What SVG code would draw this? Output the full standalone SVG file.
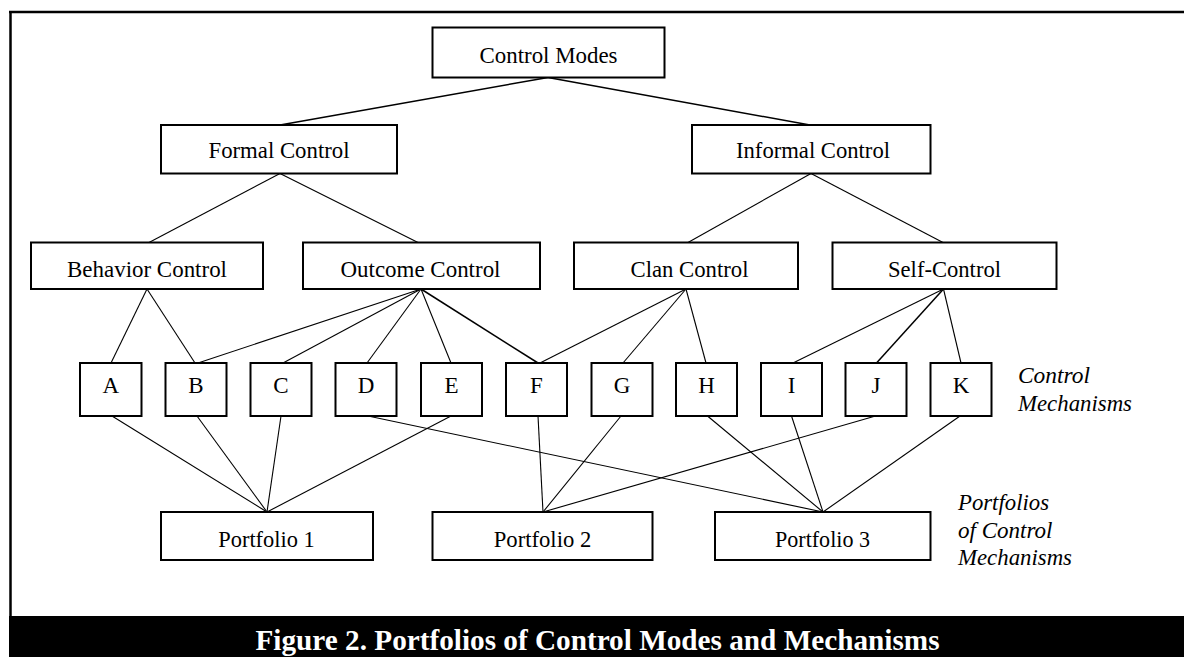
<svg xmlns="http://www.w3.org/2000/svg" width="1184" height="657" viewBox="0 0 1184 657">
  <style>
    .box { fill: #fff; stroke: #000; stroke-width: 2; }
    .lbl { font-family: "Liberation Serif", "Times New Roman", serif; font-size: 24px; fill: #000; text-anchor: middle; }
    .let { font-family: "Liberation Serif", "Times New Roman", serif; font-size: 23px; fill: #000; text-anchor: middle; }
    .side { font-family: "Liberation Serif", "Times New Roman", serif; font-size: 23px; font-style: italic; fill: #000; }
    .cap { font-family: "Liberation Serif", "Times New Roman", serif; font-size: 30px; font-weight: bold; fill: #fff; }
    .conn line { stroke: #000; stroke-width: 1.1; }
    .conn line.heavy { stroke-width: 1.5; }
  </style>

  <!-- frame -->
  <rect x="0" y="0" width="1184" height="657" fill="#fff"/>
  <line x1="9" y1="12" x2="1184" y2="12" stroke="#000" stroke-width="2.5"/>
  <line x1="10.5" y1="11" x2="10.5" y2="620" stroke="#000" stroke-width="2.5"/>

  <!-- connectors -->
  <g id="connectors" class="conn">
    <line class="heavy" x1="548" y1="77.5" x2="280" y2="125"/>
    <line class="heavy" x1="548" y1="77.5" x2="810" y2="125"/>
    <line x1="280" y1="173.5" x2="149" y2="242.5"/>
    <line x1="280" y1="173.5" x2="418" y2="242.5"/>
    <line x1="811" y1="173.5" x2="688" y2="242.5"/>
    <line x1="811" y1="173.5" x2="943" y2="242.5"/>
    <line x1="147" y1="289" x2="111" y2="363"/>
    <line x1="147" y1="289" x2="195" y2="363"/>
    <line x1="421" y1="289" x2="198" y2="363"/>
    <line x1="421" y1="289" x2="283" y2="363"/>
    <line x1="421" y1="289" x2="367" y2="363"/>
    <line x1="421" y1="289" x2="451" y2="363"/>
    <line class="heavy" x1="421" y1="289" x2="538" y2="363"/>
    <line x1="686" y1="289" x2="540" y2="363"/>
    <line x1="686" y1="289" x2="623" y2="363"/>
    <line x1="686" y1="289" x2="706" y2="363"/>
    <line x1="943.5" y1="289" x2="793" y2="363"/>
    <line class="heavy" x1="943.5" y1="289" x2="876.5" y2="363"/>
    <line x1="943.5" y1="289" x2="961" y2="363"/>
    <line x1="112" y1="416" x2="267" y2="512"/>
    <line x1="197" y1="416" x2="267" y2="512"/>
    <line x1="281" y1="416" x2="267" y2="512"/>
    <line x1="451" y1="416" x2="267" y2="512"/>
    <line x1="538" y1="416" x2="543" y2="512"/>
    <line x1="621" y1="416" x2="543" y2="512"/>
    <line x1="875.5" y1="416" x2="543" y2="512"/>
    <line x1="368" y1="416" x2="823" y2="512"/>
    <line x1="707.5" y1="416" x2="823" y2="512"/>
    <line x1="791.5" y1="416" x2="823" y2="512"/>
    <line x1="960" y1="416" x2="823" y2="512"/>
  </g>

  <!-- level 1 -->
  <g id="control-modes">
    <rect class="box" x="432.5" y="27.5" width="232" height="50"/>
    <text class="lbl" x="548.5" y="62.5" textLength="138" lengthAdjust="spacingAndGlyphs">Control Modes</text>
  </g>

  <!-- level 2 -->
  <g id="formal-control">
    <rect class="box" x="161" y="125" width="236" height="48.5"/>
    <text class="lbl" x="279" y="158.3" textLength="141" lengthAdjust="spacingAndGlyphs">Formal Control</text>
  </g>
  <g id="informal-control">
    <rect class="box" x="692" y="125" width="238.5" height="48.5"/>
    <text class="lbl" x="813" y="158.3" textLength="154" lengthAdjust="spacingAndGlyphs">Informal Control</text>
  </g>

  <!-- level 3 -->
  <g id="behavior-control">
    <rect class="box" x="31" y="242.5" width="232" height="46.5"/>
    <text class="lbl" x="147" y="277.3" textLength="160" lengthAdjust="spacingAndGlyphs">Behavior Control</text>
  </g>
  <g id="outcome-control">
    <rect class="box" x="303" y="242.5" width="237" height="46.5"/>
    <text class="lbl" x="420.5" y="277.3" textLength="160" lengthAdjust="spacingAndGlyphs">Outcome Control</text>
  </g>
  <g id="clan-control">
    <rect class="box" x="574" y="242.5" width="224" height="46.5"/>
    <text class="lbl" x="689.5" y="277.3" textLength="118" lengthAdjust="spacingAndGlyphs">Clan Control</text>
  </g>
  <g id="self-control">
    <rect class="box" x="832.5" y="242.5" width="224" height="46.5"/>
    <text class="lbl" x="944.5" y="277.3" textLength="113" lengthAdjust="spacingAndGlyphs">Self-Control</text>
  </g>

  <!-- control mechanisms -->
  <g id="mech-a"><rect class="box" x="80" y="363" width="61.5" height="53"/><text class="let" x="110.7" y="393.3">A</text></g>
  <g id="mech-b"><rect class="box" x="165.5" y="363" width="61" height="53"/><text class="let" x="196" y="393.3">B</text></g>
  <g id="mech-c"><rect class="box" x="250.5" y="363" width="61" height="53"/><text class="let" x="281" y="393.3">C</text></g>
  <g id="mech-d"><rect class="box" x="335.5" y="363" width="61" height="53"/><text class="let" x="366" y="393.3">D</text></g>
  <g id="mech-e"><rect class="box" x="421" y="363" width="61" height="53"/><text class="let" x="451.5" y="393.3">E</text></g>
  <g id="mech-f"><rect class="box" x="506" y="363" width="61" height="53"/><text class="let" x="536.5" y="393.3">F</text></g>
  <g id="mech-g"><rect class="box" x="591.5" y="363" width="61" height="53"/><text class="let" x="622" y="393.3">G</text></g>
  <g id="mech-h"><rect class="box" x="676" y="363" width="61" height="53"/><text class="let" x="706.5" y="393.3">H</text></g>
  <g id="mech-i"><rect class="box" x="761" y="363" width="61" height="53"/><text class="let" x="791.5" y="393.3">I</text></g>
  <g id="mech-j"><rect class="box" x="845.5" y="363" width="61" height="53"/><text class="let" x="876" y="393.3">J</text></g>
  <g id="mech-k"><rect class="box" x="930.5" y="363" width="61" height="53"/><text class="let" x="961" y="393.3">K</text></g>

  <!-- portfolios -->
  <g id="portfolio-1">
    <rect class="box" x="161" y="512" width="212" height="48"/>
    <text class="lbl" x="266.5" y="546.7" textLength="96.5" lengthAdjust="spacingAndGlyphs">Portfolio 1</text>
  </g>
  <g id="portfolio-2">
    <rect class="box" x="432.5" y="512" width="220" height="48"/>
    <text class="lbl" x="542.5" y="546.7" textLength="97.5" lengthAdjust="spacingAndGlyphs">Portfolio 2</text>
  </g>
  <g id="portfolio-3">
    <rect class="box" x="715" y="512" width="215.5" height="48"/>
    <text class="lbl" x="822.5" y="546.7" textLength="95" lengthAdjust="spacingAndGlyphs">Portfolio 3</text>
  </g>

  <!-- side labels -->
  <g id="label-mechanisms">
    <text class="side" x="1018" y="383.3" textLength="72" lengthAdjust="spacingAndGlyphs">Control</text>
    <text class="side" x="1018" y="411" textLength="114" lengthAdjust="spacingAndGlyphs">Mechanisms</text>
  </g>
  <g id="label-portfolios">
    <text class="side" x="958" y="510" textLength="91" lengthAdjust="spacingAndGlyphs">Portfolios</text>
    <text class="side" x="958" y="538.3" textLength="94.5" lengthAdjust="spacingAndGlyphs">of Control</text>
    <text class="side" x="958" y="565" textLength="114" lengthAdjust="spacingAndGlyphs">Mechanisms</text>
  </g>

  <!-- caption bar -->
  <g id="caption">
    <rect x="9" y="616" width="1175" height="41" fill="#000"/>
    <text class="cap" x="255.5" y="650" textLength="684" lengthAdjust="spacingAndGlyphs">Figure 2. Portfolios of Control Modes and Mechanisms</text>
  </g>
</svg>
